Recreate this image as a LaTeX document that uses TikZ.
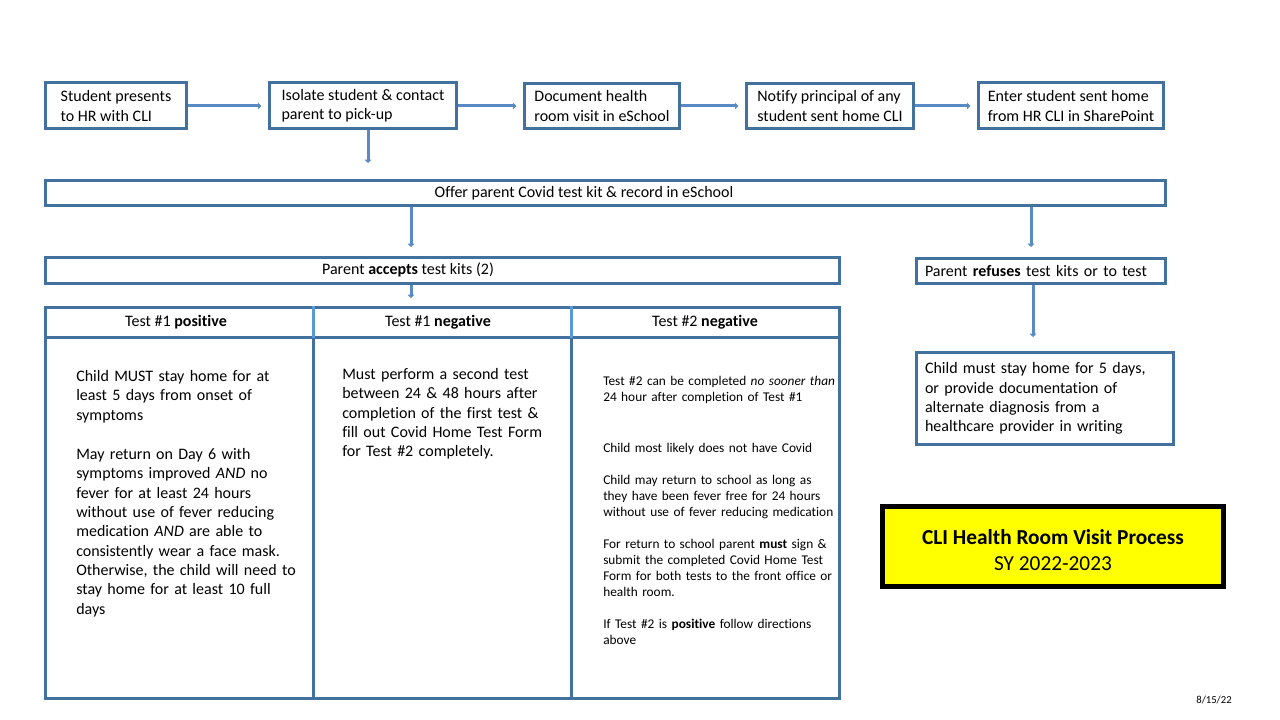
\documentclass[tikz,border=0pt]{standalone}
\usepackage{fontspec}
\setmainfont{Carlito}[Ligatures=NoCommon]
\usetikzlibrary{arrows.meta}
\definecolor{boxblue}{HTML}{41719C}
\definecolor{flowblue}{HTML}{5A8AC6}
\definecolor{headblue}{HTML}{5B9BD5}
\definecolor{titleyellow}{HTML}{FFFF00}

\begin{document}
\begin{tikzpicture}[x=0.75pt, y=-0.75pt,
	stepbox/.style={draw=boxblue, line width=2.25pt, fill=white, align=left, inner sep=0pt, font=\fontsize{12}{14.5}\selectfont},
	flow/.style={draw=flowblue, line width=2.25pt, -{Triangle[length=2.5pt,width=5pt]}},
	tabline/.style={draw=boxblue, line width=2.25pt},
	bodytxt/.style={anchor=north west, align=left, inner sep=0pt, text width=180pt, font=\fontsize{12}{14.5}\selectfont},
	]
	\useasboundingbox (0,0) rectangle (1280,720);

	\node[stepbox, minimum width=105.75pt, minimum height=34.5pt] (present) at (116,106) {Student presents\\to HR with CLI};
	\node[stepbox, minimum width=140.25pt, minimum height=34.5pt] (isolate) at (363,106) {Isolate student \& contact\\parent to pick-up};
	\node[stepbox, minimum width=116.25pt, minimum height=34pt] (document) at (602,106) {Document health\\room visit in eSchool};
	\node[stepbox, minimum width=125.25pt, minimum height=34pt] (notify) at (830,106) {Notify principal of any\\student sent home CLI};
	\node[stepbox, minimum width=138.75pt, minimum height=34.5pt] (enter) at (1071,106) {Enter student sent home\\from HR CLI in SharePoint};

	\node[stepbox, minimum width=840pt, minimum height=18.75pt] (offer) at (605.5,193) {};
	\node[font=\fontsize{12}{14.5}\selectfont] (offertxt) at (584,193.5) {Offer parent Covid test kit \& record in eSchool};
	\node[stepbox, minimum width=595.5pt, minimum height=19.5pt] (accept) at (442.5,270.5) {};
	\node[font=\fontsize{12}{14.5}\selectfont] (accepttxt) at (408,269.5) {Parent \textbf{accepts} test kits (2)};
	\node[stepbox, inner xsep=6.4pt, text width=174pt, minimum height=18.75pt] (refuse) at (1041,271) {Parent \textbf{refuses} test kits or to test};
	\node[stepbox, inner xsep=6.4pt, text width=180pt, minimum height=69pt] (home) at (1045,398.5) {Child must stay home for 5 days,\\or provide documentation of\\alternate diagnosis from a\\healthcare provider in writing};

	\coordinate (pickx) at (368,0);
	\coordinate (acceptx) at (411,0);
	\coordinate (refusex) at (1031,0);
	\coordinate (homex) at (1033,0);
	\draw[flow, shorten >=5pt] (present) -- (isolate);
	\draw[flow, shorten >=5pt] (isolate) -- (document);
	\draw[flow, shorten >=5pt] (document) -- (notify);
	\draw[flow, shorten >=5pt] (notify) -- (enter);
	\draw[flow, shorten >=12pt] (isolate.south -| pickx) -- (offer.north -| pickx);
	\draw[flow, shorten >=6.75pt] (offer.south -| acceptx) -- (accept.north -| acceptx);
	\draw[flow, shorten >=7.5pt] (offer.south -| refusex) -- (refuse.north -| refusex);
	\draw[flow, shorten >=10.5pt] (refuse.south -| homex) -- (home.north -| homex);

	\node[tabline, minimum width=595.5pt, minimum height=293.25pt, inner sep=0pt] (tests) at (442.5,503) {};
	\draw[flow, shorten >=6pt] (accept.south -| acceptx) -- (tests.north -| acceptx);
	\coordinate (headrule) at (0,337.5);
	\coordinate (colA) at (313,0);
	\coordinate (colB) at (571,0);
	\draw[tabline] (tests.west |- headrule) -- (tests.east |- headrule);
	\draw[tabline] (colA |- headrule) -- (colA |- tests.south);
	\draw[tabline] (colB |- headrule) -- (colB |- tests.south);
	\draw[draw=headblue, line width=2.25pt] (colA |- tests.north) -- (colA |- headrule);
	\draw[draw=headblue, line width=2.25pt] (colB |- tests.north) -- (colB |- headrule);

	\node[font=\fontsize{12}{14.5}\selectfont] (poshead) at (176,322) {Test \#1 \textbf{positive}};
	\node[font=\fontsize{12}{14.5}\selectfont] (neghead) at (438,322) {Test \#1 \textbf{negative}};
	\node[font=\fontsize{12}{14.5}\selectfont] (twohead) at (705,322) {Test \#2 \textbf{negative}};

	\node[bodytxt] (posbody) at (76,370) {Child MUST stay home for at\\least 5 days from onset of\\symptoms\\[15pt]
		May return on Day 6 with\\symptoms improved \textit{AND} no\\fever for at least 24 hours\\without use of fever reducing\\medication \textit{AND} are able to\\consistently wear a face mask.\\Otherwise, the child will need to\\stay home for at least 10 full\\days};
	\node[bodytxt] (negbody) at (342,368) {Must perform a second test\\between 24 \& 48 hours after\\completion of the first test \&\\fill out Covid Home Test Form\\for Test \#2 completely.};
	\node[bodytxt, font=\fontsize{10}{12}\selectfont] (twobody) at (603,376) {Test \#2 can be completed \textit{no sooner than}\\24 hour after completion of Test \#1\\[26.25pt]
		Child most likely does not have Covid\\[12pt]
		Child may return to school as long as\\they have been fever free for 24 hours\\without use of fever reducing medication\\[12pt]
		For return to school parent \textbf{must} sign \&\\submit the completed Covid Home Test\\Form for both tests to the front office or\\health room.\\[12pt]
		If Test \#2 is \textbf{positive} follow directions\\above};

	\node[draw=black, line width=3.75pt, fill=titleyellow, minimum width=255.75pt, minimum height=60pt, align=center, font=\fontsize{16}{19.5}\selectfont] (title) at (1053,546.5) {\rule{0pt}{17pt}\textbf{CLI Health Room Visit Process}\\SY 2022-2023};
	\node[font=\fontsize{8}{9.6}\selectfont] (date) at (1214,700) {8/15/22};
\end{tikzpicture}
\end{document}
